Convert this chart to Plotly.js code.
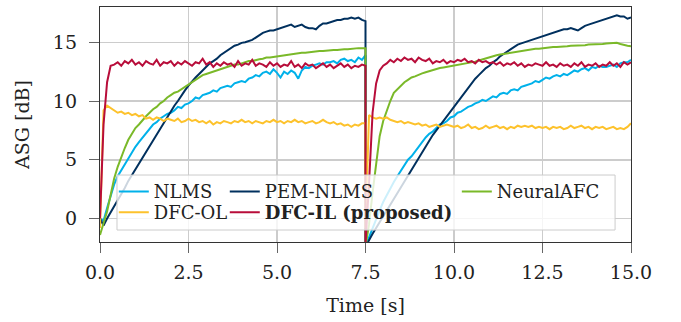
<!DOCTYPE html>
<html>
<head>
<meta charset="utf-8">
<script src="https://cdn.plot.ly/plotly-3.0.1.min.js"></script>
<style>html,body{margin:0;padding:0;background:#fff;}#chart{width:681px;height:322px;}</style>
</head>
<body>
<div id="chart"></div>
<script>
// Time axis [s]: first run 0..7.5, reset, second run 7.5..15
const time = [
0,0.1,0.2,0.3,0.4,0.5,0.6,0.7,0.8,0.9,
1,1.1,1.2,1.3,1.4,1.5,1.6,1.7,1.8,1.9,
2,2.1,2.2,2.3,2.4,2.5,2.6,2.7,2.8,2.9,
3,3.1,3.2,3.3,3.4,3.5,3.6,3.7,3.8,3.9,
4,4.1,4.2,4.3,4.4,4.5,4.6,4.7,4.8,4.9,
5,5.1,5.2,5.3,5.4,5.5,5.6,5.7,5.8,5.9,
6,6.1,6.2,6.3,6.4,6.5,6.6,6.7,6.8,6.9,
7,7.1,7.2,7.3,7.4,7.5,
7.5,7.6,7.7,7.8,7.9,
8,8.1,8.2,8.3,8.4,8.5,8.6,8.7,8.8,8.9,
9,9.1,9.2,9.3,9.4,9.5,9.6,9.7,9.8,9.9,
10,10.1,10.2,10.3,10.4,10.5,10.6,10.7,10.8,10.9,
11,11.1,11.2,11.3,11.4,11.5,11.6,11.7,11.8,11.9,
12,12.1,12.2,12.3,12.4,12.5,12.6,12.7,12.8,12.9,
13,13.1,13.2,13.3,13.4,13.5,13.6,13.7,13.8,13.9,
14,14.1,14.2,14.3,14.4,14.5,14.6,14.7,14.8,14.9,
15
];

// ASG [dB] per method
const nlms = [
0.0,-0.2,0.9,2.0,2.9,3.6,4.1,4.7,5.2,5.6,
6.1,6.5,6.9,7.3,7.6,8.0,8.2,8.5,8.7,8.9,
9.0,9.2,9.5,9.4,9.7,9.8,10.0,10.3,10.2,10.5,
10.6,10.7,10.9,10.8,11.1,11.2,11.3,11.2,11.5,11.6,
11.7,11.6,11.9,12.0,12.2,12.1,12.4,12.5,12.3,12.7,
12.4,12.0,12.5,12.3,12.6,12.4,11.9,12.6,12.9,12.8,
13.0,13.1,13.2,13.1,13.3,13.3,13.4,13.2,13.5,13.6,
13.4,13.5,13.3,13.7,13.5,13.9,
-2.4,-1.6,-0.8,0.0,0.7,
1.4,2.0,2.6,3.1,3.6,4.1,4.5,5.0,5.3,5.7,
6.1,6.6,6.9,7.2,7.4,7.7,8.0,8.1,8.3,8.6,
8.7,9.0,9.1,9.3,9.5,9.6,9.8,9.9,10.1,10.0,
10.2,10.4,10.3,10.6,10.7,10.6,10.9,11.0,10.9,11.2,
11.3,11.4,11.5,11.7,11.6,11.8,12.0,11.9,12.1,12.2,
12.1,12.3,12.2,12.4,12.6,12.5,12.7,12.8,12.6,12.9,
12.8,13.0,12.9,12.9,13.0,13.1,12.9,13.2,13.3,13.3,
13.5
];

const pemNlms = [
0.0,-0.6,0.0,0.5,1.1,1.6,2.1,2.6,3.2,3.7,
4.2,4.7,5.2,5.7,6.2,6.7,7.2,7.7,8.2,8.7,
9.1,9.6,10.0,10.5,10.9,11.3,11.7,12.0,12.3,12.6,
12.9,13.2,13.4,13.6,13.9,14.1,14.3,14.5,14.7,14.8,
14.95,15.0,15.1,15.2,15.4,15.6,15.8,15.9,16.0,16.0,
16.1,16.2,16.3,16.4,16.5,16.3,16.4,16.5,16.3,16.2,
16.2,16.1,16.4,16.6,16.6,16.7,16.8,16.9,16.9,17.0,
17.0,17.1,17.0,17.1,16.9,16.8,
-2.4,-1.8,-1.3,-0.8,-0.3,
0.2,0.7,1.2,1.7,2.2,2.7,3.2,3.7,4.2,4.7,
5.2,5.7,6.2,6.7,7.1,7.5,7.9,8.3,8.8,9.2,
9.6,10.0,10.4,10.8,11.2,11.6,11.9,12.2,12.5,12.8,
13.0,13.3,13.5,13.8,14.0,14.2,14.4,14.6,14.8,14.9,
15.0,15.1,15.2,15.3,15.4,15.5,15.6,15.7,15.8,15.9,
16.0,16.1,16.1,16.2,16.1,16.0,16.2,16.4,16.5,16.6,
16.7,16.8,16.9,17.0,17.1,17.2,17.3,17.2,17.2,17.0,
17.1
];

const neuralAfc = [
-1.4,-0.4,0.6,2.0,3.4,4.4,5.3,6.0,6.7,7.2,
7.7,8.0,8.4,8.7,9.0,9.3,9.5,9.8,10.0,10.3,
10.5,10.7,10.8,11.0,11.2,11.4,11.6,11.8,12.0,12.2,
12.3,12.4,12.5,12.6,12.7,12.8,12.9,13.0,13.1,13.1,
13.2,13.3,13.4,13.4,13.5,13.55,13.6,13.7,13.7,13.75,
13.8,13.85,13.9,13.9,13.95,14.0,14.05,14.1,14.1,14.15,
14.2,14.2,14.25,14.25,14.3,14.3,14.35,14.35,14.4,14.4,
14.4,14.45,14.45,14.5,14.5,14.5,
-2.4,-0.5,2.2,4.8,7.0,
8.3,9.2,10.0,10.7,11.0,11.3,11.6,11.8,12.0,12.1,
12.25,12.35,12.45,12.55,12.65,12.75,12.8,12.85,12.9,12.95,
13.0,13.05,13.1,13.15,13.2,13.3,13.35,13.45,13.55,13.65,
13.75,13.8,13.9,13.95,14.0,14.05,14.1,14.2,14.25,14.3,
14.35,14.35,14.4,14.45,14.45,14.5,14.5,14.55,14.6,14.6,
14.6,14.65,14.65,14.7,14.7,14.7,14.75,14.75,14.8,14.8,
14.8,14.85,14.85,14.9,14.9,14.9,14.95,14.85,14.75,14.7,
14.65
];

const dfcOl = [
-0.8,9.2,9.6,9.4,9.2,9.0,9.1,8.9,9.0,8.8,
8.9,8.7,8.8,8.5,8.6,8.4,8.6,8.5,8.3,8.5,
8.4,8.3,8.5,8.2,8.3,8.5,8.3,8.4,8.2,8.3,
8.1,8.3,8.0,8.2,8.1,8.3,8.2,8.1,8.3,8.2,
8.4,8.2,8.3,8.1,8.3,8.2,8.1,8.3,8.2,8.4,
8.2,8.3,8.1,8.3,8.2,8.4,8.2,8.3,8.1,8.2,
8.3,8.1,8.2,8.4,8.2,8.1,8.2,8.0,8.1,7.9,
8.0,7.8,8.0,7.9,8.1,8.1,
-0.8,8.8,8.6,8.5,8.6,
8.5,8.6,8.4,8.3,8.2,8.3,8.1,8.2,8.1,8.0,
8.1,7.9,8.0,7.8,7.9,8.0,7.8,7.9,8.0,7.9,
7.8,7.9,7.7,7.8,8.0,7.7,7.8,7.6,7.7,7.9,
7.7,7.8,7.9,7.7,7.8,7.6,7.8,7.7,7.9,7.8,
7.9,7.8,7.9,7.7,7.8,7.7,7.8,7.6,7.8,7.7,
7.8,7.6,7.7,7.9,7.7,7.8,7.9,7.7,7.8,7.6,
7.8,7.7,7.8,7.6,7.7,7.8,7.6,7.7,7.6,7.8,
8.1
];

const dfcIl = [
0.0,8.0,11.6,13.0,13.1,13.3,13.0,13.4,13.2,13.5,
13.1,13.3,13.0,13.4,13.2,13.1,13.5,13.0,13.3,13.2,
13.4,13.0,13.3,13.1,13.4,13.2,13.0,13.3,13.2,13.6,
13.1,13.3,12.9,13.2,13.0,13.3,13.1,13.2,12.9,13.4,
13.0,13.2,13.1,13.5,13.0,13.2,13.1,12.9,13.3,13.0,
13.2,12.9,13.1,13.0,13.4,12.9,13.1,12.8,13.2,13.0,
13.1,12.8,13.0,13.2,12.9,13.1,12.8,13.0,13.2,12.9,
13.1,12.8,13.0,12.9,13.1,13.0,
-2.2,3.0,9.0,11.5,12.6,
13.0,13.2,13.5,13.3,13.6,13.4,13.7,13.5,13.6,13.3,
13.7,13.5,13.4,13.6,13.2,13.4,13.3,13.5,13.2,13.4,
13.3,13.5,13.4,13.6,13.3,13.4,13.2,13.5,13.3,13.4,
13.2,13.3,13.1,13.3,13.0,13.2,13.1,13.3,13.0,13.2,
12.9,13.1,13.0,13.2,13.1,13.0,13.3,13.0,13.1,12.9,
13.2,13.0,13.1,12.9,13.2,13.0,13.3,12.9,13.1,13.0,
13.2,12.9,13.1,13.0,13.3,13.0,13.2,12.9,13.3,13.1,
13.3
];

const seriesNames = ['NLMS','PEM-NLMS','NeuralAFC','DFC-OL','<b>DFC-IL (proposed)</b>'];
const seriesColors = ['#00b1ea','#00305e','#7ab929','#fdc22c','#b80d3a'];
const seriesLegends = ['legend','legend3','legend5','legend2','legend4'];
const seriesData = [nlms, pemNlms, neuralAfc, dfcOl, dfcIl];

const xTicks = [0, 2.5, 5, 7.5, 10, 12.5, 15];
const yTicks = [0, 5, 10, 15];

const traces = seriesData.map((y, i) => ({
  type: 'scatter', mode: 'lines',
  x: time, y: y,
  name: seriesNames[i],
  legend: seriesLegends[i],
  line: {color: seriesColors[i], width: 2}
}));

const FONT = 'DejaVu Serif';
function leg(x, y) {
  return {x: x, y: y, xref: 'paper', yref: 'paper', xanchor: 'left', yanchor: 'middle',
    bgcolor: 'rgba(0,0,0,0)', borderwidth: 0, font: {family: FONT, size: 18, color: '#222'},
    itemwidth: 30};
}

const layout = {
  width: 681, height: 322,
  margin: {l: 100, r: 50, t: 7, b: 80, pad: 0},
  paper_bgcolor: '#ffffff', plot_bgcolor: '#ffffff',
  font: {family: FONT, size: 19, color: '#222'},
  showlegend: true,
  xaxis: {
    range: [0, 15], tickvals: xTicks, tickformat: '.1f',
    showgrid: true, gridcolor: '#cccccc', gridwidth: 1.5, zeroline: false,
    showline: true, linecolor: '#333', linewidth: 1.2, mirror: true,
    ticks: 'outside', ticklen: 10, tickcolor: '#666', tickwidth: 1,
    ticklabelstandoff: 3,
    tickfont: {family: FONT, size: 19, color: '#222'},
    title: {text: 'Time [s]', font: {family: FONT, size: 19, color: '#222', weight: 'normal'}, standoff: 16}
  },
  yaxis: {
    range: [-2, 18], tickvals: yTicks,
    showgrid: true, gridcolor: '#cccccc', gridwidth: 1.5, zeroline: false,
    showline: true, linecolor: '#333', linewidth: 1.2, mirror: true,
    ticks: 'outside', ticklen: 10, tickcolor: '#666', tickwidth: 1,
    ticklabelstandoff: 8,
    tickfont: {family: FONT, size: 19, color: '#222'},
    title: {text: 'ASG [dB]', font: {family: FONT, size: 19, color: '#222', weight: 'normal'}, standoff: 18}
  },
  legend: leg(0.026, 0.214),
  legend2: leg(0.026, 0.125),
  legend3: leg(0.235, 0.214),
  legend4: leg(0.235, 0.125),
  legend5: leg(0.672, 0.214),
  shapes: [{
    type: 'rect', xref: 'paper', yref: 'paper',
    x0: 0.032, x1: 0.970, y0: 0.051, y1: 0.285,
    fillcolor: 'rgba(255,255,255,0.8)', line: {color: '#cccccc', width: 1}, layer: 'above'
  }]
};

Plotly.newPlot('chart', traces, layout, {staticPlot: true, displayModeBar: false});
</script>
</body>
</html>
